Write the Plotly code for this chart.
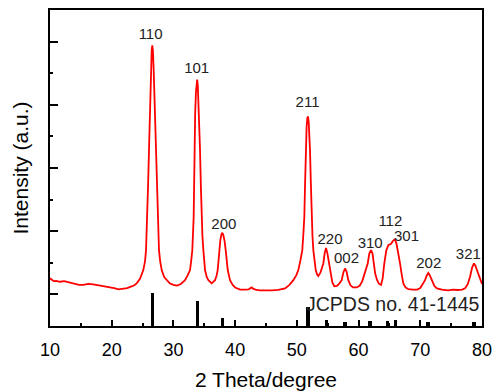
import plotly.graph_objects as go

# XRD pattern (2 theta in degrees, intensity in arbitrary units)
two_theta = [
    10.0, 10.3, 10.6, 11.0, 11.6, 12.3, 13.2, 14.0, 14.7, 15.4, 16.2, 17.0, 18.0, 19.0, 19.7,
    20.4, 21.1, 21.8, 22.5, 23.0, 23.6, 24.05, 24.6, 25.12, 25.4, 25.56, 25.77, 25.9, 26.04,
    26.2, 26.35, 26.48, 26.58, 26.68, 26.8, 26.95, 27.08, 27.18, 27.28, 27.39, 27.52, 27.66,
    27.85, 28.1, 28.5, 28.9, 29.4, 29.98, 30.6, 31.2, 31.88, 32.3, 32.69, 32.9, 33.06, 33.28,
    33.33, 33.39, 33.52, 33.65, 33.77, 33.85, 33.95, 34.07, 34.2, 34.31, 34.45, 34.57, 34.7,
    34.85, 34.98, 35.12, 35.4, 35.66, 36.2, 36.74, 37.0, 37.17, 37.3, 37.44, 37.6, 37.78,
    37.93, 38.08, 38.28, 38.47, 38.62, 38.8, 39.17, 39.6, 40.0, 40.8, 41.5, 42.2, 42.5, 42.7,
    42.9, 43.3, 44.0, 45.0, 46.0, 47.0, 48.08, 48.8, 49.43, 49.9, 50.24, 50.6, 50.88, 51.05,
    51.21, 51.33, 51.43, 51.58, 51.7, 51.8, 51.92, 52.02, 52.13, 52.27, 52.4, 52.53, 52.67,
    52.85, 53.06, 53.3, 53.48, 53.8, 54.05, 54.29, 54.5, 54.73, 54.95, 55.21, 55.45, 55.75,
    56.07, 56.5, 56.9, 57.26, 57.55, 57.8, 58.05, 58.34, 58.7, 59.1, 59.7, 60.2, 60.6, 61.0,
    61.25, 61.48, 61.75, 62.02, 62.25, 62.45, 62.7, 63.0, 63.3, 63.64, 63.9, 64.17, 64.5,
    64.82, 65.05, 65.26, 65.6, 65.91, 66.15, 66.45, 66.72, 67.0, 67.25, 67.6, 68.06, 68.8,
    69.5, 70.0, 70.4, 70.77, 71.05, 71.3, 71.55, 71.95, 72.3, 72.7, 73.5, 74.5, 75.3, 76.0,
    76.8, 77.3, 77.7, 78.06, 78.4, 78.7, 78.95, 79.25, 79.6, 80.0,
]
intensity = [
    1.51, 1.45, 1.42, 1.43, 1.40, 1.42, 1.37, 1.33, 1.30, 1.30, 1.33, 1.32, 1.29, 1.26, 1.24,
    1.20, 1.16, 1.18, 1.20, 1.24, 1.28, 1.35, 1.50, 1.77, 2.05, 2.40, 3.45, 4.50, 5.56,
    7.00, 8.10, 8.75, 8.88, 8.70, 8.10, 7.10, 6.20, 5.56, 4.50, 3.45, 2.85, 2.40,
    2.05, 1.77, 1.55, 1.45, 1.35, 1.30, 1.28, 1.33, 1.45, 1.60, 1.77, 2.10, 2.40, 3.45,
    4.40, 5.56, 6.70, 7.40, 7.75, 7.80, 7.60, 7.00, 6.20, 5.56, 4.40, 3.45, 2.85,
    2.40, 2.05, 1.77, 1.55, 1.45, 1.35, 1.45, 1.60, 1.77, 2.05, 2.40, 2.72, 2.90,
    2.95, 2.88, 2.70, 2.40, 2.05, 1.77, 1.45, 1.30, 1.22, 1.15, 1.15, 1.16, 1.20, 1.22,
    1.18, 1.15, 1.13, 1.12, 1.13, 1.14, 1.19, 1.30, 1.45, 1.60, 1.77, 2.10, 2.40, 2.90,
    3.45, 4.50, 5.56, 6.30, 6.58, 6.63, 6.45, 6.05, 5.56, 4.50, 3.45, 2.85, 2.40,
    2.05, 1.77, 1.62, 1.58, 1.68, 1.85, 1.98, 2.30, 2.47, 2.30, 1.98, 1.65, 1.38,
    1.26, 1.27, 1.35, 1.45, 1.70, 1.82, 1.72, 1.45, 1.28, 1.22, 1.22, 1.28, 1.42, 1.65,
    1.85, 1.98, 2.30, 2.40, 2.30, 1.98, 1.65, 1.45, 1.34, 1.30, 1.50, 1.98, 2.40,
    2.56, 2.57, 2.60, 2.70, 2.74, 2.60, 2.30, 1.98, 1.62, 1.35, 1.22, 1.17, 1.15,
    1.15, 1.20, 1.32, 1.45, 1.60, 1.68, 1.60, 1.42, 1.26, 1.19, 1.15, 1.13, 1.15, 1.14,
    1.15, 1.20, 1.33, 1.56, 1.85, 1.98, 1.90, 1.73, 1.52, 1.33,
]

# Reference pattern JCPDS no. 41-1445
ref_positions = [26.61, 33.89, 37.95, 51.78, 54.76, 57.82, 61.87, 64.72, 65.94, 71.28, 78.71]
ref_heights = [1.03, 0.80, 0.26, 0.61, 0.19, 0.12, 0.17, 0.17, 0.19, 0.12, 0.14]

# Peak labels (Miller indices)
hkl_labels = ["110", "101", "200", "211", "220", "002", "310", "112", "301", "202", "321"]
hkl_x = [26.3, 33.77, 38.17, 51.73, 55.38, 58.05, 61.88, 65.15, 67.77, 71.38, 77.79]
hkl_y = [9.19, 8.13, 3.19, 7.06, 2.71, 2.10, 2.60, 3.29, 2.81, 1.96, 2.25]

FONT = "Arial, 'Liberation Sans', sans-serif"

fig = go.Figure()
fig.add_trace(go.Bar(
    x=ref_positions, y=ref_heights, width=0.55,
    marker=dict(color="black", line=dict(width=0)),
    showlegend=False, hoverinfo="x+y",
))
fig.add_trace(go.Scatter(
    x=two_theta, y=intensity, mode="lines",
    line=dict(color="#ff0000", width=1.8),
    showlegend=False,
))
fig.add_trace(go.Scatter(
    x=hkl_x, y=hkl_y, mode="text", text=hkl_labels,
    textfont=dict(family=FONT, size=15, color="#222222"),
    textposition="middle center", showlegend=False, hoverinfo="skip",
))

fig.add_annotation(
    x=65.6, y=0.69, xref="x", yref="y", text="JCPDS no. 41-1445",
    showarrow=False, font=dict(family=FONT, size=19.5, color="#222222"),
    xanchor="center", yanchor="middle",
)

fig.update_layout(
    width=494, height=391,
    margin=dict(l=50, r=12, t=10, b=65, autoexpand=False),
    paper_bgcolor="white", plot_bgcolor="white",
    font=dict(family=FONT, color="black"),
    bargap=0,
    xaxis=dict(
        range=[10, 80], tickmode="linear", tick0=10, dtick=10,
        ticks="inside", ticklen=6, tickwidth=1.5, tickcolor="black",
        minor=dict(ticks="inside", ticklen=3, tickwidth=1.5, tickcolor="black", dtick=5, tick0=10),
        showline=True, linecolor="black", linewidth=2, mirror=True,
        showgrid=False, zeroline=False, automargin=False,
        tickfont=dict(family=FONT, size=18, color="black"),
        ticklabelstandoff=6,
        title=dict(text="2 Theta/degree", font=dict(family=FONT, size=21, color="black"), standoff=17),
    ),
    yaxis=dict(
        range=[0, 10], tickmode="linear", tick0=1, dtick=2,
        ticks="inside", ticklen=8, tickwidth=1.5, tickcolor="black",
        minor=dict(ticks="inside", ticklen=3, tickwidth=1.5, tickcolor="black", dtick=1, tick0=0),
        showticklabels=False, automargin=False,
        showline=True, linecolor="black", linewidth=2, mirror=True,
        showgrid=False, zeroline=False,
        title=dict(text="Intensity (a.u.)", font=dict(family=FONT, size=21, color="black"), standoff=14),
    ),
)

fig.write_html(
    "out.html",
    config={"displayModeBar": False},
    post_script="document.body.style.margin='0';document.body.style.overflow='hidden';",
)
